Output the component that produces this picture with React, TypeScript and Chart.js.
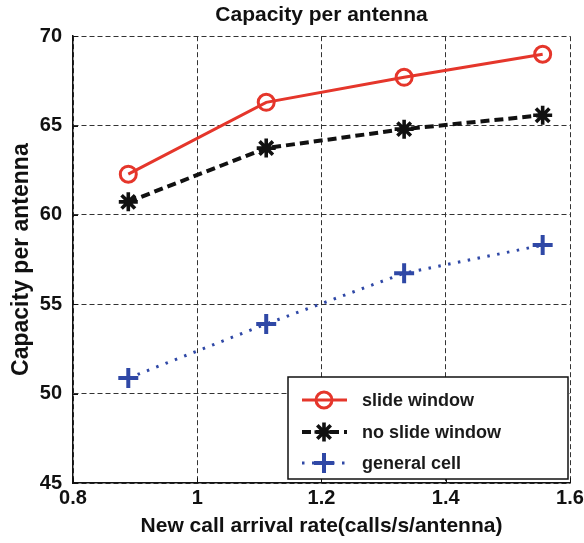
import React, { useEffect, useRef } from 'react';
import { Chart, registerables } from 'chart.js';
import { drawPoint } from 'chart.js/helpers';

Chart.register(...registerables);

const xValues = [0.889, 1.111, 1.333, 1.556];
const slideWindow = [62.28, 66.3, 67.7, 68.99];
const noSlideWindow = [60.73, 63.74, 64.8, 65.58];
const generalCell = [50.87, 53.9, 56.74, 58.31];
const seriesNames = ['slide window', 'no slide window', 'general cell'];
const xTicks = [0.8, 1, 1.2, 1.4, 1.6];
const yTicks = [45, 50, 55, 60, 65, 70];
const chartTitle = 'Capacity per antenna';
const xTitle = 'New call arrival rate(calls/s/antenna)';
const yTitle = 'Capacity per antenna';

const FONT = "'Liberation Sans', Arial, Helvetica, sans-serif";
const RED = '#e5362b';
const BLACK = '#111111';
const BLUE = '#2f48a6';

const styles = [
  { color: RED, dash: [] as number[], width: 3, point: 'circle', radius: 8, pw: 3, fill: 'rgba(0,0,0,0)' },
  { color: BLACK, dash: [9, 5], width: 4, point: 'star', radius: 9.5, pw: 3.6, fill: BLACK },
  { color: BLUE, dash: [2.5, 7.5], width: 3, point: 'cross', radius: 10, pw: 4, fill: BLUE },
];

const toPts = (ys: number[]) => ys.map((y, i) => ({ x: xValues[i], y }));

const legendPlugin = {
  id: 'insideLegend',
  afterDraw(chart: any) {
    const { ctx, chartArea } = chart;
    const w = 280;
    const h = 102;
    const left = chartArea.right - 282;
    const top = chartArea.bottom - 106;
    ctx.save();
    ctx.fillStyle = '#ffffff';
    ctx.fillRect(left, top, w, h);
    ctx.lineWidth = 1.5;
    ctx.strokeStyle = '#111';
    ctx.setLineDash([]);
    ctx.strokeRect(left, top, w, h);
    const rows = [23, 55, 86];
    chart.data.datasets.forEach((ds: any, i: number) => {
      const st = styles[i];
      const y = top + rows[i];
      ctx.save();
      ctx.strokeStyle = st.color;
      ctx.lineWidth = st.width;
      ctx.setLineDash(st.dash);
      ctx.beginPath();
      ctx.moveTo(left + 14, y);
      ctx.lineTo(left + 59, y);
      ctx.stroke();
      ctx.restore();
      ctx.save();
      ctx.setLineDash([]);
      ctx.strokeStyle = st.color;
      ctx.fillStyle = st.fill;
      ctx.lineWidth = st.pw;
      drawPoint(ctx, { pointStyle: st.point, radius: st.radius, rotation: 0, borderWidth: st.pw }, left + 36, y);
      ctx.restore();
      ctx.fillStyle = '#1a1a1a';
      ctx.font = `bold 18px ${FONT}`;
      ctx.textAlign = 'left';
      ctx.textBaseline = 'middle';
      ctx.fillText(ds.label, left + 74, y + 1);
    });
    ctx.restore();
  },
};

const innerTicksPlugin = {
  id: 'innerTicks',
  afterDatasetsDraw(chart: any) {
    const { ctx, chartArea, scales } = chart;
    ctx.save();
    ctx.strokeStyle = '#111';
    ctx.lineWidth = 1;
    ctx.setLineDash([]);
    ctx.beginPath();
    yTicks.forEach((v) => {
      const y = Math.round(scales.y.getPixelForValue(v)) + 0.5;
      ctx.moveTo(chartArea.left, y);
      ctx.lineTo(chartArea.left + 5, y);
    });
    xTicks.forEach((v) => {
      const x = Math.round(scales.x.getPixelForValue(v)) + 0.5;
      ctx.moveTo(x, chartArea.bottom);
      ctx.lineTo(x, chartArea.bottom - 5);
    });
    ctx.stroke();
    ctx.restore();
  },
};

export default function App() {
  const ref = useRef<HTMLCanvasElement | null>(null);

  useEffect(() => {
    if (!ref.current) return;
    Chart.defaults.font.family = FONT;
    const datasets = [slideWindow, noSlideWindow, generalCell].map((ys, i) => {
      const st = styles[i];
      return {
        label: seriesNames[i],
        data: toPts(ys),
        borderColor: st.color,
        backgroundColor: st.fill,
        borderWidth: st.width,
        borderDash: st.dash,
        pointStyle: st.point,
        pointRadius: st.radius,
        pointBorderWidth: st.pw,
        pointBorderColor: st.color,
        pointBackgroundColor: st.fill,
        tension: 0,
        fill: false,
      };
    });
    const chart = new Chart(ref.current, {
      type: 'line',
      data: { datasets },
      options: {
        animation: false,
        responsive: false,
        maintainAspectRatio: false,
        layout: { padding: { left: 0, right: 13, top: 0, bottom: 0 } },
        plugins: {
          legend: { display: false },
          tooltip: { enabled: false },
          title: {
            display: true,
            fullSize: false,
            text: chartTitle,
            color: '#111',
            font: { size: 21, weight: 'bold', family: FONT },
            padding: { top: 3, bottom: 8 },
          },
        },
        scales: {
          x: {
            type: 'linear',
            min: 0.8,
            max: 1.6,
            afterBuildTicks: (s: any) => {
              s.ticks = xTicks.map((v) => ({ value: v }));
            },
            afterFit: (s: any) => {
              s.height = 60;
              s.paddingLeft = 0;
              s.paddingRight = 0;
            },
            ticks: {
              color: '#111',
              font: { size: 20, weight: 'bold', family: FONT },
              padding: 3,
              maxRotation: 0,
              callback: (v: any) => String(Number(Number(v).toFixed(1))),
            },
            grid: { color: '#333', lineWidth: 1, drawTicks: false },
            border: { display: true, color: '#111', width: 1.5, dash: [5, 3] },
            title: {
              display: true,
              text: xTitle,
              color: '#111',
              font: { size: 21, weight: 'bold', family: FONT },
              padding: { top: 0, bottom: 4 },
            },
          },
          y: {
            type: 'linear',
            min: 45,
            max: 70,
            afterBuildTicks: (s: any) => {
              s.ticks = yTicks.map((v) => ({ value: v }));
            },
            afterFit: (s: any) => {
              s.width = 73;
              s.paddingTop = 0;
              s.paddingBottom = 0;
            },
            ticks: {
              color: '#111',
              font: { size: 20, weight: 'bold', family: FONT },
              padding: 11,
            },
            grid: { color: '#333', lineWidth: 1, drawTicks: false },
            border: { display: true, color: '#111', width: 1.5, dash: [5, 3] },
            title: {
              display: true,
              text: yTitle,
              color: '#111',
              font: { size: 23, weight: 'bold', family: FONT },
              padding: { top: 8, bottom: 0 },
            },
          },
        },
      },
      plugins: [innerTicksPlugin, legendPlugin],
    } as any);
    return () => chart.destroy();
  }, []);

  return (
    <div style={{ position: 'absolute', left: 0, top: 0, width: 584, height: 543, background: '#fff' }}>
      <canvas ref={ref} width={584} height={543} style={{ width: 584, height: 543, display: 'block' }} />
    </div>
  );
}
